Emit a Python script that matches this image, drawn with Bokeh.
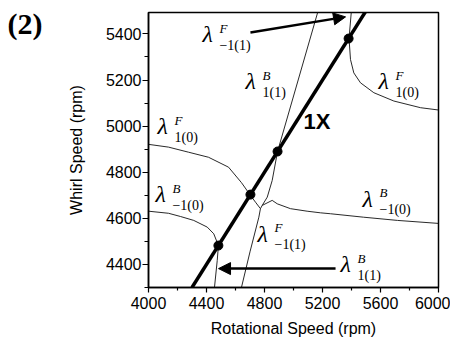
from bokeh.plotting import figure
from bokeh.models import Arrow, NormalHead, FixedTicker, Range1d
from bokeh.core.properties import value
from bokeh.embed import file_html
from bokeh.resources import INLINE

# ---------------- data ----------------
x_ticks = [4000, 4400, 4800, 5200, 5600, 6000]
y_ticks = [4400, 4600, 4800, 5000, 5200, 5400]

line_1x_speed = [4300, 5520]
line_1x_whirl = [4300, 5520]

# upper-left branch (lambda^F_1(0)) turning down into lambda^F_-1(1)
ul_speed = [4000, 4138, 4276, 4414, 4552, 4641, 4703, 4738, 4772, 4761, 4700, 4641]
ul_whirl = [4921, 4909, 4887, 4865, 4822, 4755, 4700, 4670, 4642, 4605, 4455, 4300]

# steep branch up through the 4890 crossing (lambda^B_1(1), upper part)
us_speed = [4784, 4819, 4853, 4890, 5179]
us_whirl = [4656, 4692, 4764, 4890, 5520]

# cusp and right branch (lambda^B_-1(0), right)
rb_speed = [4772, 4784, 4853, 4888, 4979, 5094, 5186, 5255, 5483, 5717, 6000]
rb_whirl = [4642, 4656, 4678, 4663, 4642, 4631, 4624, 4620, 4605, 4591, 4578]

# upper-right branch (lambda^F_1(0), right) with lambda^F_-1(1) top
ur_speed = [5402, 5383, 5393, 5416, 5462, 5554, 5692, 5876, 6000]
ur_whirl = [5520, 5380, 5289, 5231, 5188, 5145, 5109, 5080, 5070]

# lower-left branch (lambda^B_-1(0)) turning down into lambda^B_1(1)
ll_speed = [4000, 4138, 4221, 4312, 4405, 4450, 4474, 4482, 4474, 4455]
ll_whirl = [4631, 4622, 4608, 4591, 4562, 4533, 4495, 4480, 4417, 4300]

# crossing points with 1X
cross_speed = [4482, 4703, 4890, 5380]
cross_whirl = [4482, 4703, 4890, 5380]

# curve labels: lambda^{sup}_{sub}
lab_x = [4372, 4669, 5586, 4062, 4048, 5476, 4752, 5324]
lab_y = [5359, 5155, 5155, 4960, 4665, 4647, 4495, 4361]
lab_sup = ["F", "B", "F", "F", "B", "B", "F", "B"]
lab_sub = ["\u22121(1)", "1(1)", "1(0)", "1(0)", "\u22121(0)", "\u22121(0)", "\u22121(1)", "1(1)"]

# arrows (tail -> tip)
arr_x0 = [4703, 5290]
arr_y0 = [5406, 4382]
arr_x1 = [5359, 4483]
arr_y1 = [5474, 4382]

# ---------------- figure ----------------
p = figure(width=450, height=339, output_backend="svg", toolbar_location=None,
           x_range=Range1d(4000, 6000), y_range=Range1d(4300, 5493),
           min_border_left=148, min_border_right=12, min_border_top=12, min_border_bottom=52,
           title="(2)")
p.title.text_font = "Liberation Serif"
p.title.text_font_style = "bold"
p.title.text_font_size = "30px"
p.title.text_color = "black"
p.title.align = "left"
p.title.offset = -141
p.title.standoff = -54
p.title.vertical_align = "bottom"

p.background_fill_color = "white"
p.border_fill_color = "white"
p.outline_line_color = "black"
p.outline_line_width = 1.5
p.xgrid.visible = False
p.ygrid.visible = False

p.xaxis.ticker = FixedTicker(ticks=x_ticks, minor_ticks=[t + 200 for t in x_ticks[:-1]])
p.yaxis.ticker = FixedTicker(ticks=y_ticks, minor_ticks=[4300] + [t + 100 for t in y_ticks])

for ax in (p.xaxis[0], p.yaxis[0]):
    ax.axis_line_width = 1.5
    ax.axis_line_color = "black"
    ax.major_tick_line_color = "black"
    ax.minor_tick_line_color = "black"
    ax.major_tick_line_width = 1.2
    ax.minor_tick_line_width = 1.2
    ax.major_tick_in = 0
    ax.minor_tick_in = 0
    ax.major_label_text_font = "Liberation Sans"
    ax.major_label_text_font_size = "16px"
    ax.major_label_text_color = "black"
    ax.axis_label_text_font = "Liberation Sans"
    ax.axis_label_text_font_size = "16px"
    ax.axis_label_text_font_style = "normal"
    ax.axis_label_text_color = "black"

p.xaxis.major_tick_out = 5
p.xaxis.minor_tick_out = 3
p.yaxis.major_tick_out = 6
p.yaxis.minor_tick_out = 4
p.xaxis.major_label_standoff = 4
p.yaxis.major_label_standoff = 1
p.xaxis.axis_label = "Rotational Speed (rpm)"
p.yaxis.axis_label = "Whirl Speed (rpm)"
p.xaxis.axis_label_standoff = 8
p.yaxis.axis_label_standoff = 18

thin = dict(line_color="#111111", line_width=0.9)
p.line(ul_speed, ul_whirl, **thin)
p.line(us_speed, us_whirl, **thin)
p.line(rb_speed, rb_whirl, **thin)
p.line(ur_speed, ur_whirl, **thin)
p.line(ll_speed, ll_whirl, **thin)

p.line(line_1x_speed, line_1x_whirl, line_color="black", line_width=3.5)
p.scatter(cross_speed, cross_whirl, size=9, color="black")

# labels
p.text(lab_x, lab_y, text=["\u03bb"] * len(lab_x), text_font=value("Liberation Serif"),
       text_font_style="italic", text_font_size="24px", text_baseline="middle",
       text_align="left", y_offset=-9, text_color="black")
p.text(lab_x, lab_y, text=lab_sup, text_font=value("Liberation Serif"),
       text_font_style="italic", text_font_size="13px", text_baseline="middle",
       text_align="left", x_offset=17, y_offset=-15, text_color="black")
p.text(lab_x, lab_y, text=lab_sub, text_font=value("Liberation Serif"),
       text_font_size="14px", text_baseline="middle",
       text_align="left", x_offset=17, y_offset=2, text_color="black")

p.text([5069], [5018], text=["1X"], text_font=value("Liberation Sans"),
       text_font_style="bold", text_font_size="22px", text_baseline="middle",
       text_align="left", text_color="black")

for i in range(len(arr_x0)):
    p.add_layout(Arrow(x_start=arr_x0[i], y_start=arr_y0[i], x_end=arr_x1[i], y_end=arr_y1[i],
                       line_width=2.5, line_color="black",
                       end=NormalHead(size=12, fill_color="black", line_color="black", line_width=1)))

open("out.html", "w").write(file_html(p, INLINE))
